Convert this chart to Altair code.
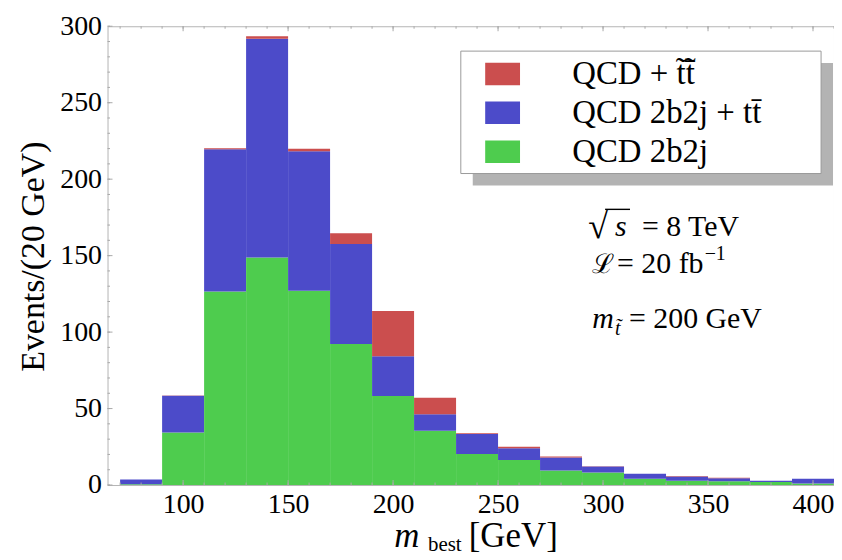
import altair as alt
import pandas as pd

# ---- data ----
bin_lo = [70, 90, 110, 130, 150, 170, 190, 210, 230, 250, 270, 290, 310, 330, 350, 370, 390]
bin_width = 20
green_top = [0.5, 34.4, 126.6, 148.7, 127.0, 92.2, 58.2, 35.5, 20.3, 16.4, 9.5, 8.2, 4.1, 2.8, 2.4, 1.9, 1.0]
blue_top = [3.6, 58.4, 219.5, 291.8, 218.2, 157.6, 84.2, 46.3, 33.3, 24.0, 18.0, 12.1, 7.3, 5.6, 4.5, 2.8, 4.1]
red_top = [3.6, 58.6, 220.3, 293.5, 219.9, 164.7, 113.8, 57.1, 33.8, 25.1, 18.6, 12.2, 7.4, 5.9, 4.8, 2.8, 4.1]

series_names = ["QCD + t\u0303t\u0303\u0304", "QCD 2b2j + tt\u0304", "QCD 2b2j"]
series_colors = ["#CB4E4E", "#4C4BC9", "#4ECC4E"]

x_tick_labels = [100, 150, 200, 250, 300, 350, 400]
x_minor = list(range(70, 411, 10))
y_tick_labels = [0, 50, 100, 150, 200, 250, 300]
y_minor = list(range(0, 301, 10))

rows = []
for lo, g, b, r in zip(bin_lo, green_top, blue_top, red_top):
    rows.append({"v": lo, "hi": lo + bin_width, "w": 0, "y1": g, "series": series_names[2]})
    rows.append({"v": lo, "hi": lo + bin_width, "w": g, "y1": b, "series": series_names[1]})
    rows.append({"v": lo, "hi": lo + bin_width, "w": b, "y1": r, "series": series_names[0]})
df = pd.DataFrame(rows)

SERIF = "Liberation Serif"
W, H = 730, 461
xscale = alt.Scale(domain=[64, 410], nice=False, zero=False)
yscale = alt.Scale(domain=[0, 300], nice=False)

xaxis = alt.Axis(values=x_tick_labels, title=None, ticks=False, domain=False, grid=False,
                 labelFont=SERIF, labelFontSize=28, labelColor="black", labelPadding=6,
                 format="d")
yaxis = alt.Axis(values=y_tick_labels, ticks=False, domain=False, grid=False,
                 labelFont=SERIF, labelFontSize=28, labelColor="black", labelPadding=6,
                 format="d", title="Events/(20 GeV)", titleFont=SERIF, titleFontSize=34,
                 titleFontWeight="normal", titleColor="black", titleX=-64, titleY=231,
                 titleAngle=270, titleBaseline="alphabetic", titleAlign="center")

bars = alt.Chart(df).mark_rect().encode(
    x=alt.X("v:Q", scale=xscale, axis=xaxis),
    x2="hi:Q",
    y=alt.Y("w:Q", scale=yscale, axis=yaxis),
    y2="y1:Q",
    color=alt.Color("series:N",
                    scale=alt.Scale(domain=series_names, range=series_colors),
                    legend=alt.Legend(orient="none", legendX=379.5, legendY=30.5, title=None,
                                      symbolType="M-1,-0.646H1V0.646H-1Z", symbolSize=1225,
                                      symbolStrokeWidth=0, symbolOpacity=1,
                                      labelFont=SERIF, labelFontSize=33, labelColor="black",
                                      labelOffset=52.5, rowPadding=4, padding=0, labelLimit=500)),
)

tick_col = "#a8a8a8"
def yticks(vals, length):
    return alt.Chart(pd.DataFrame({"w": vals})).mark_rule(color=tick_col, strokeWidth=1).encode(
        y=alt.Y("w:Q", scale=yscale, axis=yaxis), x=alt.value(0), x2=alt.value(length))

def xticks(vals, length, top):
    if top:
        yy, yy2 = 0, length
    else:
        yy, yy2 = H - length, H
    return alt.Chart(pd.DataFrame({"v": vals})).mark_rule(color=tick_col, strokeWidth=1).encode(
        x=alt.X("v:Q", scale=xscale, axis=xaxis), y=alt.value(yy), y2=alt.value(yy2))

one = pd.DataFrame({"a": [0]})

def box(x1, y1, x2, y2, fill, stroke=None):
    kw = {"fill": fill}
    if stroke:
        kw.update(stroke=stroke, strokeWidth=1)
    return alt.Chart(one).mark_rect(**kw).encode(
        x=alt.value(x1), x2=alt.value(x2), y=alt.value(y1), y2=alt.value(y2))

def txt(s, x, y, size=30, style="normal"):
    return alt.Chart(pd.DataFrame({"t": [s]})).mark_text(
        font=SERIF, fontSize=size, fontStyle=style, color="black", align="left",
        baseline="alphabetic").encode(x=alt.value(x), y=alt.value(y), text="t:N")

overline = alt.Chart(one).mark_rule(color="black", strokeWidth=1.4).encode(
    x=alt.value(500), x2=alt.value(525), y=alt.value(184))

layers = [
    bars,
    yticks(y_minor, 2.5), yticks(y_tick_labels, 5),
    xticks(x_minor, 2.5, False), xticks(x_tick_labels, 5, False),
    xticks(x_minor, 2.5, True), xticks(x_tick_labels, 5, True),
    box(367, 37, 729, 160, "#b3b3b3"),
    box(355, 25, 717, 148, "white", "#9a9a9a"),
    # annotations
    txt("\u221a", 483, 213, size=36), txt("s", 510, 211, style="italic"), overline,
    txt("= 8 TeV", 537, 211),
    txt("\u2112", 487, 248, size=27), txt("= 20 fb", 512, 248), txt("\u22121", 600, 235, size=20),
    txt("m", 487, 303, style="italic"), txt("t\u0303", 510, 310, size=20, style="italic"),
    txt("= 200 GeV", 524, 303),
    # x axis title
    txt("m", 288, 523, size=35, style="italic"), txt("best", 322, 527, size=21),
    txt("[GeV]", 363, 523, size=35),
]

chart = alt.layer(*layers).properties(
    width=W, height=H,
    padding={"left": 100, "top": 17, "right": 0, "bottom": 72},
    autosize=alt.AutoSizeParams(type="none"),
).configure_view(stroke="#b4b4b4", strokeWidth=1)

chart.save("out.html", embed_options={"renderer": "svg", "actions": False})
